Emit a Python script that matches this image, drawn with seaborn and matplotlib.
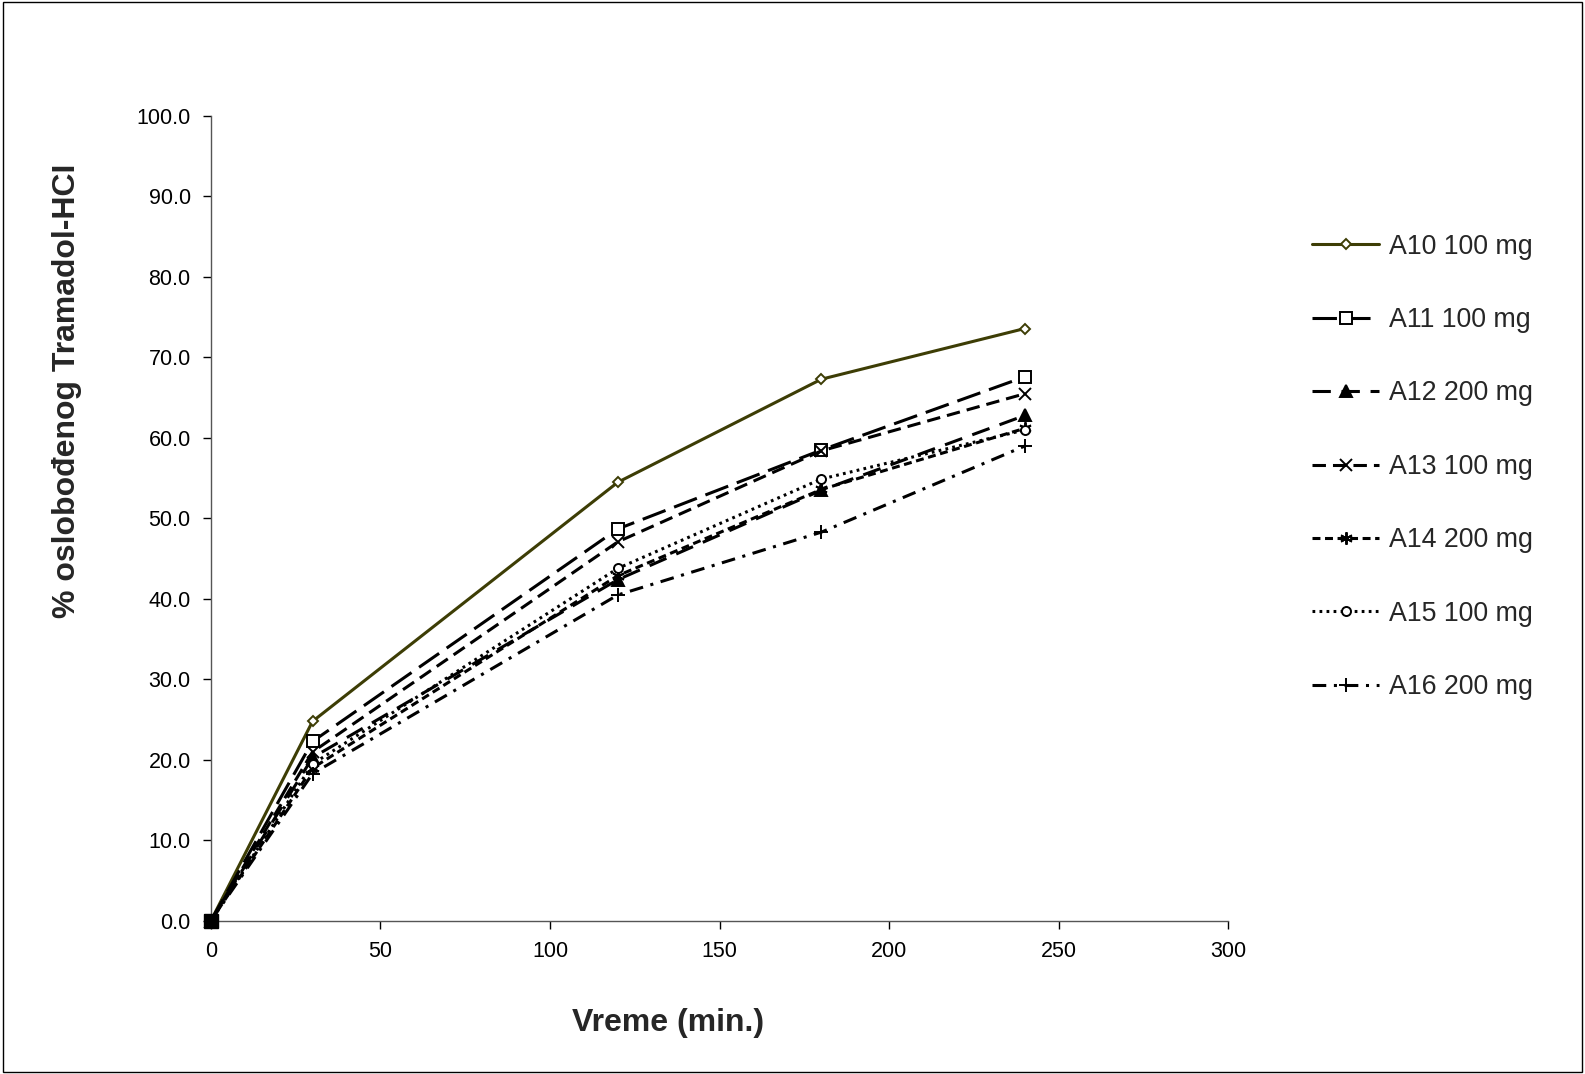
import matplotlib
matplotlib.use("Agg")
import matplotlib.pyplot as plt
import numpy as np
import pandas as pd
import seaborn as sns

# time points (min) and % released for each formulation
vreme = [0, 30, 120, 180, 240]
a10 = [0.0, 24.8, 54.5, 67.3, 73.6]
a11 = [0.0, 22.3, 48.7, 58.5, 67.6]
a12 = [0.0, 20.3, 42.4, 53.5, 62.8]
a13 = [0.0, 21.0, 47.1, 58.4, 65.5]
a14 = [0.0, 19.0, 42.9, 53.6, 61.2]
a15 = [0.0, 19.5, 43.8, 54.9, 61.0]
a16 = [0.0, 18.3, 40.5, 48.3, 59.0]
labels = ["A10 100 mg", "A11 100 mg", "A12 200 mg", "A13 100 mg",
          "A14 200 mg", "A15 100 mg", "A16 200 mg"]

df = pd.DataFrame({"vreme": vreme})
for lab, vals in zip(labels, [a10, a11, a12, a13, a14, a15, a16]):
    df[lab] = vals
long_df = df.melt(id_vars="vreme", var_name="uzorak", value_name="proc")

sns.set_style("white")
plt.rcParams["font.family"] = ["Liberation Sans", "DejaVu Sans"]

# line style per series (Excel-like)
stil = {
    "A10 100 mg": dict(color="#3d3d05", ls="-", marker="D", ms=5.5, mfc="white"),
    "A11 100 mg": dict(color="black", ls=(0, (8, 3)), marker="s", ms=9, mfc="white"),
    "A12 200 mg": dict(color="black", ls=(0, (6, 3.5)), marker="^", ms=9, mfc="black"),
    "A13 100 mg": dict(color="black", ls=(0, (4.4, 2.3)), marker="x", ms=9, mfc="none"),
    "A14 200 mg": dict(color="black", ls=(0, (2.6, 1.5)), marker=(6, 2, 0), ms=9, mfc="none"),
    "A15 100 mg": dict(color="black", ls=(0, (0.9, 1.4)), marker="o", ms=6.5, mfc="white"),
    "A16 200 mg": dict(color="black", ls=(0, (4.5, 2.5, 1, 2.5)), marker="+", ms=10, mfc="none"),
}

fig = plt.figure(figsize=(15.85, 10.74), dpi=100)
ax = fig.add_axes([0.133, 0.1425, 0.642, 0.7495])

for lab in labels:
    s = stil[lab]
    sub = long_df[long_df["uzorak"] == lab]
    sns.lineplot(data=sub, x="vreme", y="proc", ax=ax, label=lab,
                 color=s["color"], linestyle=s["ls"], linewidth=2.2,
                 marker=s["marker"], markersize=s["ms"],
                 markerfacecolor=s["mfc"], markeredgecolor=s["color"],
                 markeredgewidth=1.4, clip_on=False)

# filled square at origin where all markers pile up
ax.plot([vreme[0]], [a11[0]], marker="s", ms=10, color="black", zorder=5, clip_on=False)

ax.set_xlim(0, 300)
ax.set_ylim(0, 100)
ax.set_xticks(np.arange(0, 301, 50))
ax.set_yticks(np.arange(0, 101, 10))
ax.set_yticklabels([f"{v:.1f}" for v in np.arange(0, 101, 10)])
ax.tick_params(axis="both", direction="out", length=6, width=1, labelsize=15.5,
               left=True, bottom=True, colors="black")
ax.tick_params(axis="y", pad=8.5)
ax.tick_params(axis="x", pad=8.5)
for side in ["top", "right"]:
    ax.spines[side].set_visible(False)
for side in ["left", "bottom"]:
    ax.spines[side].set_color("#555555")
    ax.spines[side].set_linewidth(1)

ax.set_xlabel("Vreme (min.)", fontsize=23, fontweight="bold")
ax.set_ylabel("% oslobođenog Tramadol-HCI", fontsize=23, fontweight="bold")
ax.xaxis.set_label_coords(0.449, -0.108)
ax.yaxis.set_label_coords(-0.127, 0.658)

leg = ax.legend(loc="upper left", bbox_to_anchor=(0.8195, 0.795),
                bbox_transform=fig.transFigure, frameon=False, fontsize=19.3,
                handlelength=2.5, handletextpad=0.35, labelspacing=1.77,
                numpoints=1, borderpad=0)

# thin border around the whole figure
fig.patches.append(plt.Rectangle((0.002, 0.002), 0.996, 0.996, transform=fig.transFigure,
                                 fill=False, edgecolor="black", linewidth=1))

fig.savefig("out.png", dpi=100)
